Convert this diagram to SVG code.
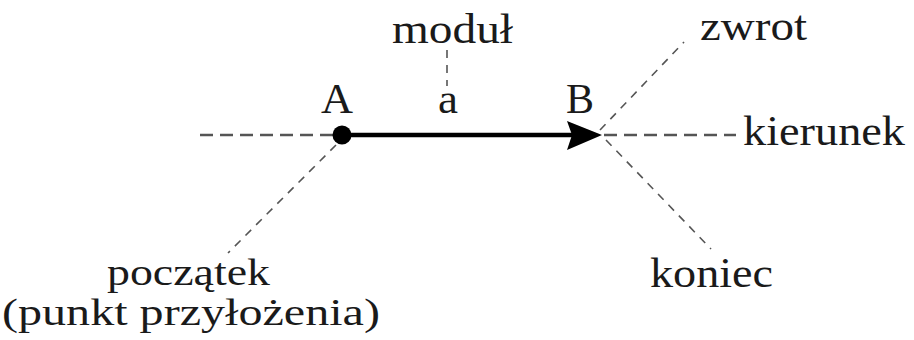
<svg xmlns="http://www.w3.org/2000/svg" width="914" height="340" viewBox="0 0 914 340">
<style>
.axis{stroke:#555;stroke-width:2.6;stroke-dasharray:13 7;fill:none}
.lead{stroke:#555;stroke-width:1.6;stroke-dasharray:8 7;fill:none}
.vec{stroke:#000;stroke-width:4.5;fill:none}
</style>
<rect width="914" height="340" fill="#fff"/>
<g id="connectors">
<line class="axis" x1="200" y1="135" x2="334" y2="135"/>
<line class="axis" x1="604" y1="135" x2="736" y2="135"/>
<line class="lead" x1="447" y1="50" x2="447" y2="86"/>
<line class="lead" x1="600" y1="130" x2="684" y2="42"/>
<line class="lead" x1="606" y1="140" x2="711" y2="249"/>
<line class="lead" x1="336" y1="145" x2="228" y2="253"/>
<line class="vec" x1="342" y1="135" x2="572" y2="135"/>
<polygon points="567,121 602,135 567,150 572,135" fill="#000"/>
</g>
<g font-family="'Liberation Serif', 'DejaVu Serif', serif" font-size="42" fill="#1a1a1a">
<g id="nodeA">
<circle cx="342" cy="135" r="9.5" fill="#000"/>
<text x="321" y="113" textLength="32" lengthAdjust="spacingAndGlyphs">A</text>
</g>
<g id="nodeB">
<text x="566" y="113" textLength="28" lengthAdjust="spacingAndGlyphs">B</text>
</g>
<g id="label-a">
<text x="438" y="113" textLength="20" lengthAdjust="spacingAndGlyphs">a</text>
</g>
<g id="label-modul">
<text x="392" y="43" textLength="121" lengthAdjust="spacingAndGlyphs">moduł</text>
</g>
<g id="label-zwrot">
<text x="700" y="40" textLength="107" lengthAdjust="spacingAndGlyphs">zwrot</text>
</g>
<g id="label-kierunek">
<text x="743" y="145" textLength="162" lengthAdjust="spacingAndGlyphs">kierunek</text>
</g>
<g id="label-koniec">
<text x="650" y="287" textLength="123" lengthAdjust="spacingAndGlyphs">koniec</text>
</g>
<g id="label-poczatek" font-size="38">
<text x="107" y="285" textLength="163" lengthAdjust="spacingAndGlyphs">początek</text>
<text x="2" y="325" textLength="378" lengthAdjust="spacingAndGlyphs">(punkt przyłożenia)</text>
</g>
</g>
</svg>
